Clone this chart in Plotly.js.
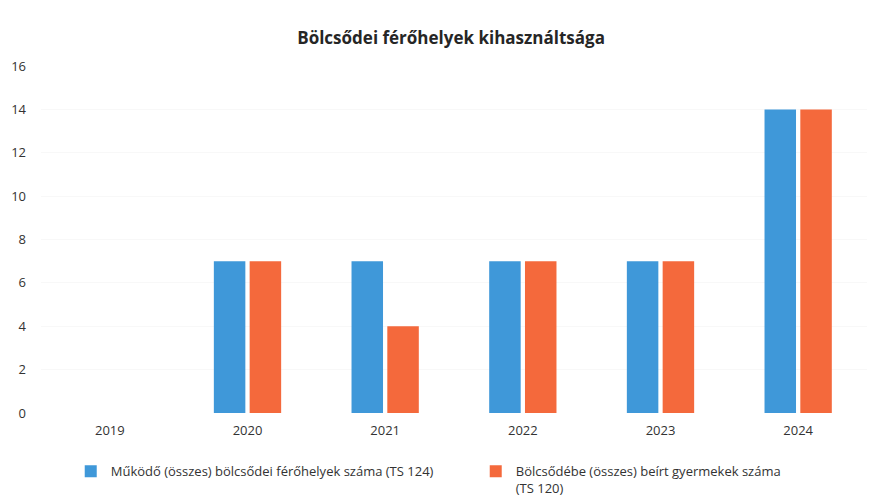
<!DOCTYPE html>
<html>
<head>
<meta charset="utf-8">
<script src="https://cdn.plot.ly/plotly-3.0.1.min.js"></script>
<style>
  html, body {margin: 0; padding: 0; background: #fff;}
  #chart {width: 888px; height: 501px;}
</style>
</head>
<body>
<div id="chart"></div>
<script>
// Bölcsődei férőhelyek kihasználtsága
const years = ['2019', '2020', '2021', '2022', '2023', '2024'];
const ferohelyek = [0, 7, 7, 7, 7, 14];
const beirtGyermekek = [0, 7, 4, 7, 7, 14];
const seriesNames = [
  'Működő (összes) bölcsődei férőhelyek száma (TS 124)',
  'Bölcsődébe (összes) beírt gyermekek száma<br>(TS 120)',
];
const yTicks = [0, 2, 4, 6, 8, 10, 12, 14, 16];

const font = 'Open Sans, Noto Sans, sans-serif';

const traces = [
  {
    x: years,
    y: ferohelyek,
    name: seriesNames[0],
    type: 'bar',
    marker: {color: '#3f98d9'},
    hoverinfo: 'x+y',
  },
  {
    x: years,
    y: beirtGyermekek,
    name: seriesNames[1],
    type: 'bar',
    marker: {color: '#f4693c'},
    hoverinfo: 'x+y',
  },
];

const layout = {
  width: 888,
  height: 501,
  margin: {l: 41, r: 21, t: 66, b: 88, autoexpand: false},
  paper_bgcolor: '#ffffff',
  plot_bgcolor: '#ffffff',
  font: {family: font, size: 13, color: '#404040'},
  title: {
    text: '<b>Bölcsődei férőhelyek kihasználtsága</b>',
    font: {family: font, size: 17, color: '#262626'},
    x: 0.508,
    xanchor: 'center',
    y: 0.925,
    yanchor: 'middle',
  },
  barmode: 'group',
  bargap: 0.48,
  bargroupgap: 0.12,
  xaxis: {
    type: 'category',
    showgrid: false,
    showline: false,
    zeroline: false,
    ticks: '',
    tickfont: {size: 13, color: '#333333'},
    ticklabelstandoff: 8,
  },
  yaxis: {
    range: [0, 16],
    tickvals: yTicks,
    showgrid: true,
    gridcolor: '#f8f8f8',
    zeroline: false,
    showline: false,
    ticks: '',
    tickfont: {size: 13, color: '#333333'},
    ticklabelstandoff: 14,
  },
  showlegend: true,
  legend: {
    orientation: 'h',
    x: 0.036,
    xanchor: 'left',
    y: -0.125,
    yanchor: 'top',
    valign: 'top',
    entrywidth: 360,
    entrywidthmode: 'pixels',
    itemwidth: 30,
    font: {size: 13, color: '#333333'},
    traceorder: 'normal',
  },
};

Plotly.newPlot('chart', traces, layout, {displayModeBar: false, staticPlot: true});
</script>
</body>
</html>
